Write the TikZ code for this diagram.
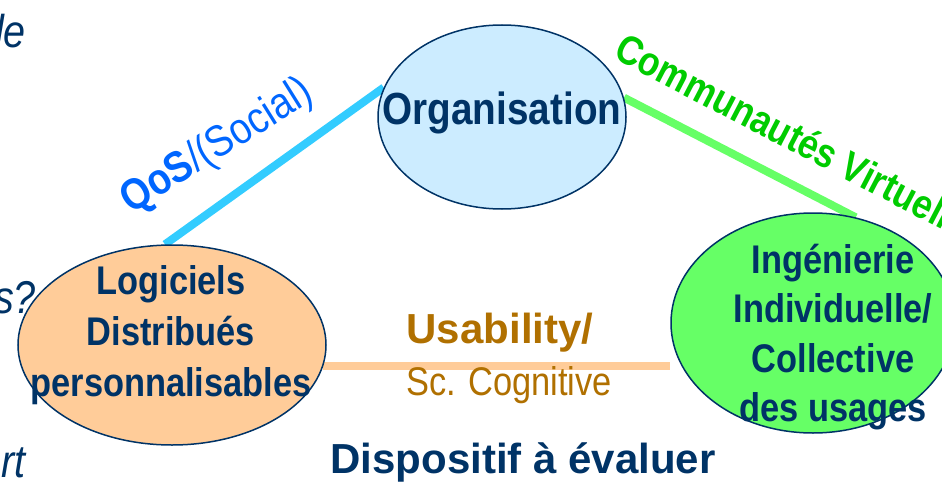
\documentclass[tikz,border=0pt]{standalone}
\usepackage{fontspec}
\setmainfont{Liberation Sans}
\newfontfamily\nar[FakeStretch=0.86]{Liberation Sans}
\usetikzlibrary{shapes.geometric,backgrounds}
\definecolor{navy}{RGB}{0,51,102}
\definecolor{orgfill}{RGB}{204,236,255}
\definecolor{logfill}{RGB}{255,204,153}
\definecolor{ingfill}{RGB}{102,255,102}
\definecolor{qosblue}{RGB}{0,102,255}
\definecolor{qosline}{RGB}{51,204,255}
\definecolor{cvgreen}{RGB}{0,204,0}
\definecolor{cvline}{RGB}{102,255,102}
\definecolor{usabrown}{RGB}{176,112,0}
\definecolor{usaline}{RGB}{255,204,153}
\tikzset{
  blob/.style={ellipse, draw=navy, line width=1.5pt, inner sep=0pt},
  blobtext/.style={text=navy, align=center, inner sep=0pt, font=\nar\bfseries\fontsize{40}{50}\selectfont},
  link/.style={line width=8pt},
  sidetext/.style={text=navy, inner sep=0pt, anchor=base east, font=\nar\itshape\fontsize{46}{50}\selectfont}
}
\begin{document}
\begin{tikzpicture}[x=1pt,y=1pt]
\useasboundingbox (0,0) rectangle (942,483);
\clip (0,0) rectangle (942,483);
% ellipses
\node[blob, fill=orgfill, minimum width=248, minimum height=184] (org) at (502,366) {};
\node[blob, fill=logfill, minimum width=308, minimum height=200] (log) at (172,138) {};
\node[blob, fill=ingfill, minimum width=284, minimum height=220] (ing) at (813,160) {};
% texts in ellipses
\node[blobtext, font=\nar\bfseries\fontsize{45}{50}\selectfont] (orgt) at (502,370) {Organisation};
\node[blobtext, font=\nar\bfseries\fontsize{40}{51}\selectfont] (logt) at (171,148) {Logiciels\\Distribués\\personnalisables};
\node[blobtext, font=\nar\bfseries\fontsize{40}{49.5}\selectfont] (ingt) at (833,146) {Ingénierie\\Individuelle/\\Collective\\des usages};
% connectors
\begin{pgfonlayer}{background}
\draw[link, qosline] (log.94) -- (org.166);
\draw[link, cvline] (org.9) -- (ing.68);
\draw[link, usaline] (log.-8) -- (log.-8 -| ing.west);
\end{pgfonlayer}
% connector labels
\node[text=qosblue, inner sep=0pt, rotate=32, font=\nar\fontsize{44}{50}\selectfont] (qos) at (217,336) {\textbf{QoS}/(Social)};
\node[text=cvgreen, inner sep=0pt, rotate=-27.5, font=\nar\bfseries\fontsize{41}{50}\selectfont] (cv) at (802,343) {Communautés Virtuelles};
\node[text=usabrown, inner sep=0pt, font=\bfseries\fontsize{42}{50}\selectfont] (usa) at (500,150) {Usability/};
\node[text=usabrown, inner sep=0pt, font=\nar\fontsize{40}{50}\selectfont] (sc) at (509,98) {Sc. Cognitive};
\node[text=navy, inner sep=0pt, font=\bfseries\fontsize{42}{50}\selectfont] (disp) at (523,21) {Dispositif à évaluer};
% clipped side texts
\node[sidetext] (s1) at (26,435) {le};
\node[sidetext] (s2) at (36,170) {s?};
\node[sidetext] (s3) at (26,6) {rt};
\end{tikzpicture}
\end{document}
